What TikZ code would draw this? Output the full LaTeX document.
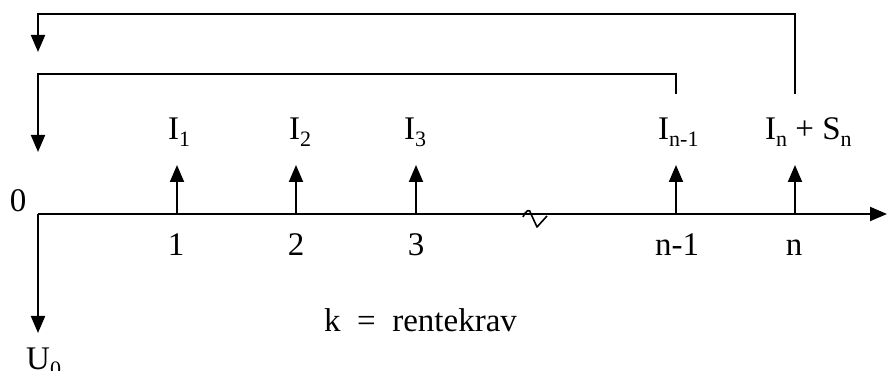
\documentclass[tikz,border=0pt]{standalone}
\usepackage{fontspec}
\setmainfont{Liberation Serif}
\usetikzlibrary{arrows.meta}

\newcommand{\lowidx}[1]{\raisebox{-7pt}{\fontsize{22}{22}\selectfont #1}}
\tikzset{
  flow/.style={line width=2pt,-{Triangle[width=14pt,length=17pt]}},
  lbl/.style={inner sep=0pt,font=\fontsize{33}{36}\selectfont},
}

\begin{document}
\begin{tikzpicture}[x=1pt,y=-1pt]
  \useasboundingbox (0,0) rectangle (887,371);
  % time axis
  \coordinate (O) at (38,214);
  \coordinate (E) at (887,214);
  \draw[flow] (O) -- (E);
  \draw[line width=1.6pt,line join=round] (523,217) .. controls (526,210) and (530,208) .. (531,214) -- (537,227) -- (547,216);
  % period points
  \coordinate (t1) at (177,214);
  \coordinate (t2) at (296,214);
  \coordinate (t3) at (416,214);
  \coordinate (tm) at (676,214);
  \coordinate (tn) at (795,214);
  \node[lbl,anchor=base] (z) at (18,212) {0};
  \node[lbl,anchor=base] (n1) at (176,256) {1};
  \node[lbl,anchor=base] (n2) at (296,256) {2};
  \node[lbl,anchor=base] (n3) at (416,256) {3};
  \node[lbl,anchor=base] (nm) at (677,256) {n-1};
  \node[lbl,anchor=base] (nn) at (794,256) {n};
  % payments in
  \coordinate (a1) at (177,165);
  \coordinate (a2) at (296,165);
  \coordinate (a3) at (416,165);
  \coordinate (am) at (676,165);
  \coordinate (an) at (795,165);
  \draw[flow] (t1) -- (a1);
  \draw[flow] (t2) -- (a2);
  \draw[flow] (t3) -- (a3);
  \draw[flow] (tm) -- (am);
  \draw[flow] (tn) -- (an);
  \node[lbl,anchor=base west] (i1) at (168,140) {I\lowidx{1}};
  \node[lbl,anchor=base west] (i2) at (289,140) {I\lowidx{2}};
  \node[lbl,anchor=base west] (i3) at (404,140) {I\lowidx{3}};
  \node[lbl,anchor=base west] (im) at (658,140) {I\lowidx{n-1}};
  \node[lbl,anchor=base west] (in) at (765,140) {I\lowidx{n} + S\lowidx{n}};
  % outlay
  \coordinate (u) at (38,333);
  \draw[flow] (O) -- (u);
  \node[lbl,anchor=base west] (u0) at (26,370) {U\lowidx{0}};
  \node[lbl,anchor=base west] (k) at (324,332) {k\ \ =\ \ rentekrav};
  % discounting back
  \coordinate (rm) at (676,94);
  \coordinate (cm) at (38,74);
  \coordinate (dm) at (38,152);
  \draw[flow] (rm) |- (cm) -- (dm);
  \coordinate (rn) at (795,94);
  \coordinate (cn) at (38,14);
  \coordinate (dn) at (38,52);
  \draw[flow] (rn) |- (cn) -- (dn);
\end{tikzpicture}
\end{document}
